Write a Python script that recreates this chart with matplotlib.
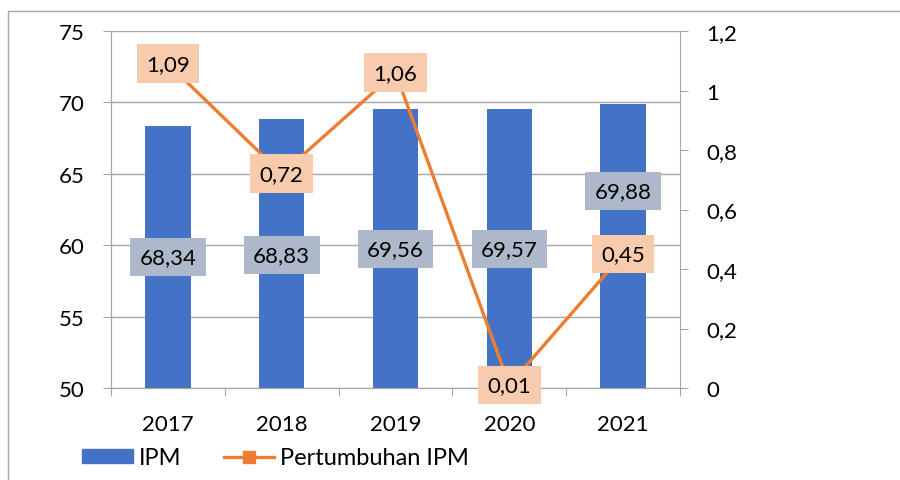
#!/usr/bin/env python3
"""
IPM per tahun (batang) dan pertumbuhan IPM (garis, sumbu kanan)
"""

import matplotlib.pyplot as plt
from matplotlib.patches import Rectangle
from matplotlib.ticker import FuncFormatter, MultipleLocator

# data
years = ['2017', '2018', '2019', '2020', '2021']
ipm = [68.34, 68.83, 69.56, 69.57, 69.88]
growth = [1.09, 0.72, 1.06, 0.01, 0.45]

# posisi label IPM (diletakkan manual, seperti di grafik asli)
ipm_label_y = [59.17, 59.31, 59.73, 59.73, 63.8]

BAR_COLOR = '#4472C4'
LINE_COLOR = '#ED7D31'
BAR_LABEL_BG = '#ADB9CA'
LINE_LABEL_BG = '#F8CBAD'
GRID_COLOR = '#A6A6A6'
FONT_SIZE = 16

plt.rcParams['font.family'] = ['Lato', 'DejaVu Sans']


def comma(v, pos=None):
    return f'{v:g}'.replace('.', ',')


fig = plt.figure(figsize=(9, 4.81), dpi=100)
ax = fig.add_axes([111 / 900, 1 - 389 / 481, 569 / 900, 357 / 481])
ax2 = ax.twinx()

x = range(len(years))
ax.bar(x, ipm, width=0.4, color=BAR_COLOR, zorder=2)
ax.set_ylim(50, 75)
ax.set_xlim(-0.5, len(years) - 0.5)
ax.yaxis.set_major_locator(MultipleLocator(5))
ax.grid(axis='y', color=GRID_COLOR, linewidth=1, zorder=0)
ax.set_axisbelow(True)

# tick kategori di batas antar tahun
ax.set_xticks([i - 0.5 for i in range(len(years) + 1)])
ax.set_xticklabels([])
ax.set_xticks(list(x), minor=True)
ax.set_xticklabels(years, minor=True, fontsize=FONT_SIZE)
ax.tick_params(axis='x', which='major', length=6, color=GRID_COLOR, direction='out')
ax.tick_params(axis='x', which='minor', length=0, pad=19)
ax.tick_params(axis='y', length=6, color=GRID_COLOR, labelsize=FONT_SIZE, pad=13)

ax2.plot(x, growth, color=LINE_COLOR, linewidth=2.4, marker='s', markersize=8,
         zorder=3, label='Pertumbuhan IPM')
ax2.set_ylim(0, 1.2)
ax2.yaxis.set_major_locator(MultipleLocator(0.2))
ax2.yaxis.set_major_formatter(FuncFormatter(comma))
ax2.tick_params(axis='y', length=6, color=GRID_COLOR, labelsize=FONT_SIZE, pad=13)

for a in (ax, ax2):
    a.spines['top'].set_visible(False)
    for side in ('left', 'right', 'bottom'):
        a.spines[side].set_color(GRID_COLOR)
ax.spines['right'].set_visible(False)

# label data
for i, (v, ly) in enumerate(zip(ipm, ipm_label_y)):
    ax.text(i, ly, comma(v), ha='center', va='center', fontsize=FONT_SIZE, zorder=5,
            bbox=dict(boxstyle='square,pad=0.42', facecolor=BAR_LABEL_BG, edgecolor='none'))
for i, v in enumerate(growth):
    ax2.text(i, v, f'{v:.2f}'.replace('.', ','), ha='center', va='center',
             fontsize=FONT_SIZE, zorder=6,
             bbox=dict(boxstyle='square,pad=0.42', facecolor=LINE_LABEL_BG, edgecolor='none'))

# legenda
bar_handle = Rectangle((0, 0), 1, 1, color=BAR_COLOR)
line_handle = ax2.get_lines()[0]
fig.legend([bar_handle, line_handle], ['IPM', 'Pertumbuhan IPM'], ncol=2,
           loc='center left', bbox_to_anchor=(82 / 900, 1 - 459 / 481), frameon=False,
           borderpad=0, borderaxespad=0,
           fontsize=17, handlelength=2.15, handleheight=0.55,
           handletextpad=0.25, columnspacing=1.8)

# bingkai area grafik
fig.patches.append(Rectangle((8 / 900, -0.1), 1.2, 1 - 12 / 481 + 0.1,
                             transform=fig.transFigure, fill=False,
                             edgecolor='#A6A6A6', linewidth=1, clip_on=False))

fig.savefig('out.png', dpi=100)
plt.close(fig)
